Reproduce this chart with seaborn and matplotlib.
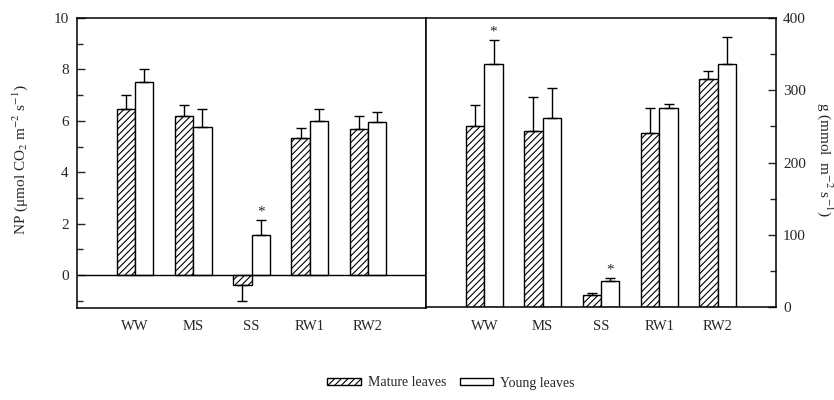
import numpy as np
import pandas as pd
import seaborn as sns
import matplotlib
matplotlib.use('Agg')
import matplotlib.pyplot as plt
from matplotlib.patches import Patch
from matplotlib.ticker import MultipleLocator
from matplotlib.container import BarContainer

# ---------------- data ----------------
conditions = ['WW', 'MS', 'SS', 'RW1', 'RW2']
leaf_types = ['Mature leaves', 'Young leaves']

np_mature = [6.45, 6.2, -0.4, 5.32, 5.67]
np_mature_err = [0.55, 0.4, 0.6, 0.41, 0.52]
np_young = [7.52, 5.75, 1.56, 5.99, 5.94]
np_young_err = [0.5, 0.7, 0.58, 0.47, 0.41]
np_young_star = [False, False, True, False, False]

g_mature = [251, 244, 17, 241, 316]
g_mature_err = [29, 46, 3, 34, 11]
g_young = [336, 261, 35.5, 275, 336]
g_young_err = [34, 42, 5, 6, 38]
g_young_star = [True, False, True, False, False]

left_ylabel = 'NP (μmol CO$_2$ m$^{-2}$ s$^{-1}$)'
right_ylabel = 'g (mmol  m$^{-2}$ s$^{-1}$)'

# ---------------- style ----------------
sns.set_style('ticks')
plt.rcParams['font.family'] = ['Liberation Serif', 'DejaVu Serif']
plt.rcParams['mathtext.fontset'] = 'stix'
plt.rcParams['hatch.linewidth'] = 0.8
plt.rcParams['hatch.color'] = 'black'

df_np = pd.DataFrame({
    'condition': conditions * 2,
    'leaf': [leaf_types[0]] * 5 + [leaf_types[1]] * 5,
    'value': np_mature + np_young,
})
df_g = pd.DataFrame({
    'condition': conditions * 2,
    'leaf': [leaf_types[0]] * 5 + [leaf_types[1]] * 5,
    'value': g_mature + g_young,
})

W, H = 834, 400
fig = plt.figure(figsize=(W / 100, H / 100), dpi=100)
ax1 = fig.add_axes([77 / W, 92 / H, 349 / W, 290 / H])
ax2 = fig.add_axes([426 / W, 93 / H, 350 / W, 289 / H])


def draw_panel(ax, df, errs, vals, stars, star_off):
    sns.barplot(data=df, x='condition', y='value', hue='leaf',
                order=conditions, hue_order=leaf_types,
                palette=['white', 'white'], saturation=1,
                edgecolor='black', linewidth=1.0, width=0.63, gap=0,
                errorbar=None, legend=False, ax=ax)
    bar_conts = [c for c in ax.containers if isinstance(c, BarContainer)]
    for i, cont in enumerate(bar_conts):
        xs = []
        for p in cont.patches:
            xs.append(p.get_x() + p.get_width() / 2)
            if i == 0:
                p.set_hatch('/////')
        v = np.array(vals[i], dtype=float)
        e = np.array(errs[i], dtype=float)
        lower = np.where(v < 0, e, 0)
        upper = np.where(v >= 0, e, 0)
        ax.errorbar(xs, v, yerr=[lower, upper], fmt='none', ecolor='black',
                    elinewidth=1.0, capsize=3.5, capthick=1.0, zorder=1)
        if i == 1:
            for x, vv, ee, s in zip(xs, v, e, stars):
                if s:
                    ax.text(x, vv + ee + star_off, '*', ha='center',
                            va='bottom', fontsize=11)
    ax.set_xlim(-1, 5)
    ax.set_xlabel('')
    ax.set_ylabel('')
    ax.tick_params(axis='x', length=0, pad=9, labelsize=10.5)
    for sp in ax.spines.values():
        sp.set_visible(True)
        sp.set_color('black')
        sp.set_linewidth(1.1)


draw_panel(ax1, df_np, [np_mature_err, np_young_err], [np_mature, np_young],
           np_young_star, 0.05)
draw_panel(ax2, df_g, [g_mature_err, g_young_err], [g_mature, g_young],
           g_young_star, 2)

ax1.set_ylim(-1.28, 10)
ax1.axhline(0, color='black', lw=1.0, zorder=3)
ax1.set_yticks([0, 2, 4, 6, 8, 10])
ax1.yaxis.set_minor_locator(MultipleLocator(1))
ax1.tick_params(axis='y', which='major', direction='in', length=6, width=1,
                pad=6, labelsize=11, right=False)
ax1.tick_params(axis='y', which='minor', direction='in', length=4, width=1,
                right=False)

ax2.set_ylim(0, 400)
ax2.yaxis.tick_right()
ax2.set_yticks([0, 100, 200, 300, 400])
ax2.yaxis.set_minor_locator(MultipleLocator(50))
ax2.tick_params(axis='y', which='major', direction='in', length=6, width=1,
                pad=5, labelsize=11, left=False, right=True)
ax2.tick_params(axis='y', which='minor', direction='in', length=4, width=1,
                left=False, right=True)

fig.text(20 / W, 1 - 160 / H, left_ylabel, rotation=90, ha='center',
         va='center', fontsize=11)
fig.text(825 / W, 1 - 160 / H, right_ylabel, rotation=270, ha='center',
         va='center', fontsize=11)

handles = [Patch(facecolor='white', edgecolor='black', hatch='/////', lw=1),
           Patch(facecolor='white', edgecolor='black', lw=1)]
fig.legend(handles, leaf_types, loc='center', bbox_to_anchor=(451 / W, 17 / H),
           ncol=2, frameon=False, handlelength=2.4, handleheight=0.45,
           handletextpad=0.5, columnspacing=1.0, fontsize=10)

fig.savefig('out.png', dpi=100)
